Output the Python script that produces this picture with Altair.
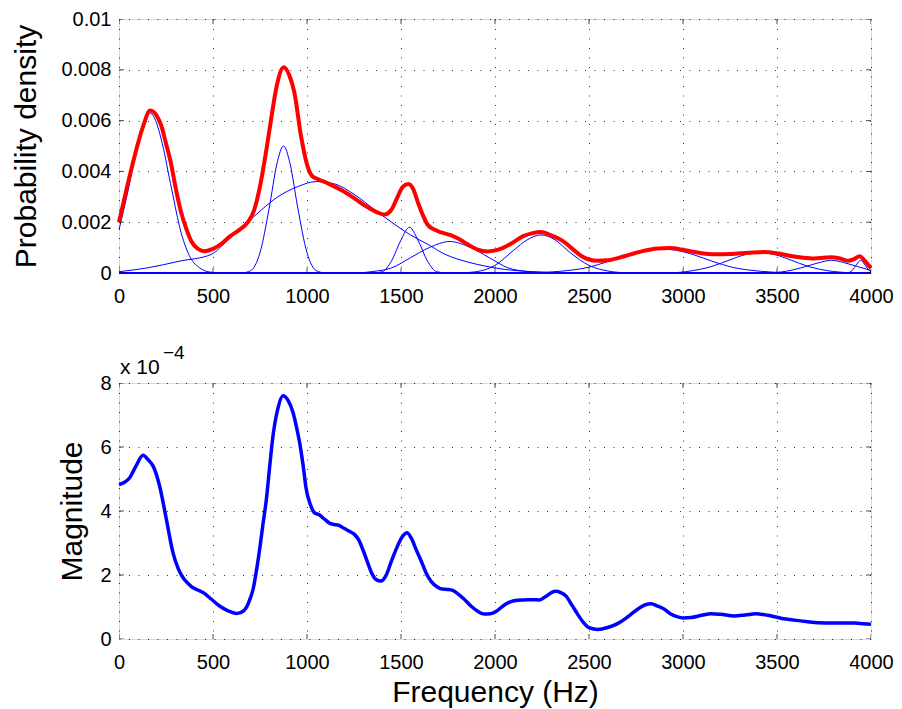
import altair as alt
import pandas as pd

FONT = "Liberation Sans"

# ---------------- data ----------------
# top panel: mixture density (red)
mix_f = [0, 40, 83, 125, 166, 200, 225, 250, 277, 300, 330, 360, 385, 420, 456, 500, 550, 590,
         640, 685, 720, 755, 785, 808, 840, 876, 905, 933, 968, 1003, 1030, 1057, 1120, 1199,
         1305, 1370, 1411, 1450, 1482, 1510, 1540, 1565, 1589, 1615, 1642, 1680, 1713, 1760,
         1801, 1850, 1908, 1960, 1996, 2040, 2085, 2150, 2200, 2245, 2300, 2369, 2420, 2457,
         2500, 2545, 2600, 2688, 2780, 2865, 2930, 2989, 3043, 3100, 3166, 3250, 3350, 3432,
         3500, 3574, 3640, 3698, 3750, 3787, 3830, 3876, 3910, 3940, 3965, 3991, 4000]
mix_v = [0.0020, 0.0033, 0.0046, 0.0057, 0.0064, 0.0062, 0.0058, 0.0051, 0.0043, 0.0034, 0.0024,
         0.0017, 0.00125, 0.00095, 0.00086, 0.00095, 0.00118, 0.00144, 0.0017, 0.0020, 0.0025,
         0.0036, 0.0049, 0.0060, 0.0074, 0.0081, 0.0078, 0.0071, 0.0054, 0.0042, 0.0038, 0.0037,
         0.0035, 0.0032, 0.00267, 0.0024, 0.0023, 0.0025, 0.0030, 0.0034, 0.0035, 0.0033, 0.0028,
         0.0023, 0.0019, 0.0017, 0.0016, 0.0015, 0.00137, 0.00115, 0.00092, 0.00085, 0.00088,
         0.00098, 0.00115, 0.00145, 0.00157, 0.00161, 0.00148, 0.00122, 0.0009, 0.00068, 0.00053,
         0.00048, 0.0005, 0.00066, 0.00085, 0.00096, 0.00098, 0.00093, 0.00085, 0.00078, 0.00074,
         0.00075, 0.0008, 0.00083, 0.00078, 0.00067, 0.0006, 0.00057, 0.0006, 0.00062, 0.00058,
         0.00048, 0.00055, 0.00066, 0.0005, 0.00027, 0.0002]

# top panel: mixture components (thin blue)
c1_f = [0, 50, 100, 135, 165, 195, 230, 280, 330, 380, 430, 480, 550, 4000]
c1_v = [0.0017, 0.0033, 0.0051, 0.0060, 0.0063, 0.0060, 0.0051, 0.0033, 0.0016, 0.0006, 0.0002, 0.00004, 0, 0]
c2_f = [0, 150, 325, 490, 580, 670, 760, 845, 950, 1050, 1150, 1250, 1375, 1450, 1550, 1650, 1730,
        1800, 1900, 2000, 2100, 2250, 2400, 4000]
c2_v = [0.00005, 0.0002, 0.00047, 0.00073, 0.0013, 0.0019, 0.0025, 0.0030, 0.0034, 0.0036, 0.0035,
        0.0031, 0.0024, 0.0020, 0.0015, 0.0011, 0.00075, 0.00055, 0.00035, 0.0002, 0.0001, 0.00004, 0, 0]
c3_f = [0, 650, 700, 750, 800, 840, 875, 910, 950, 1000, 1050, 1100, 4000]
c3_v = [0, 0, 0.00009, 0.0008, 0.0026, 0.0043, 0.0050, 0.0043, 0.0026, 0.0008, 0.00009, 0, 0]
c4_f = [0, 1350, 1400, 1450, 1500, 1545, 1590, 1640, 1690, 1750, 4000]
c4_v = [0, 0, 0.00005, 0.00048, 0.0013, 0.0018, 0.0013, 0.00048, 0.00005, 0, 0]
c5_f = [0, 1250, 1350, 1450, 1550, 1650, 1760, 1870, 1970, 2070, 2170, 2270, 4000]
c5_v = [0, 0, 0.00006, 0.0002, 0.0006, 0.0010, 0.00124, 0.0010, 0.0006, 0.0002, 0.00006, 0, 0]
c6_f = [0, 1800, 1900, 2000, 2100, 2170, 2245, 2320, 2400, 2500, 2600, 2700, 2800, 4000]
c6_v = [0, 0, 0.00005, 0.0003, 0.0009, 0.0013, 0.0015, 0.0013, 0.0008, 0.0003, 0.00008, 0.00001, 0, 0]
c7_f = [0, 2200, 2350, 2500, 2600, 2700, 2800, 2880, 2960, 3060, 3160, 3260, 3410, 3560, 3700, 4000]
c7_v = [0, 0.00001, 0.00007, 0.00023, 0.00045, 0.00071, 0.0009, 0.00095, 0.0009, 0.00071, 0.00045,
        0.00023, 0.00007, 0.00001, 0, 0]
c8_f = [0, 2900, 3050, 3150, 3250, 3330, 3410, 3490, 3570, 3670, 3770, 3900, 4000]
c8_v = [0, 0, 0.00009, 0.00025, 0.00052, 0.00072, 0.0008, 0.00072, 0.00052, 0.00025, 0.00009, 0.00001, 0]
c9_f = [0, 3450, 3550, 3650, 3720, 3790, 3860, 3930, 4000]
c9_v = [0, 0.00001, 0.00007, 0.00025, 0.0004, 0.0005, 0.0004, 0.00025, 0.0001]
c10_f = [0, 3870, 3900, 3925, 3945, 3965, 3990, 4000]
c10_v = [0, 0, 0.0001, 0.00035, 0.0005, 0.00035, 0.0001, 0.00005]

# bottom panel: magnitude (x 10^-4)
mag_f = [0, 30, 57, 90, 128, 155, 181, 216, 252, 287, 315, 340, 370, 394, 420, 447, 490, 535, 580,
         624, 650, 677, 700, 713, 730, 748, 766, 784, 800, 819, 845, 872, 900, 926, 945, 961, 980,
         996, 1015, 1039, 1065, 1092, 1120, 1145, 1170, 1199, 1230, 1252, 1275, 1300, 1323, 1345,
         1367, 1394, 1420, 1450, 1482, 1510, 1532, 1555, 1580, 1610, 1633, 1660, 1695, 1720, 1748,
         1775, 1801, 1835, 1872, 1910, 1943, 1975, 2005, 2032, 2060, 2085, 2120, 2156, 2200, 2236,
         2270, 2300, 2324, 2350, 2378, 2410, 2440, 2470, 2493, 2520, 2546, 2600, 2652, 2690, 2723,
         2770, 2800, 2830, 2865, 2901, 2935, 2972, 3000, 3043, 3100, 3149, 3200, 3273, 3330, 3388,
         3450, 3521, 3590, 3663, 3720, 3787, 3850, 3911, 3960, 4000]
mag_v = [4.83, 4.9, 5.04, 5.4, 5.74, 5.6, 5.41, 4.78, 3.74, 2.70, 2.2, 1.92, 1.72, 1.60, 1.53, 1.45,
         1.25, 1.03, 0.88, 0.80, 0.83, 0.98, 1.3, 1.55, 2.1, 2.80, 3.6, 4.37, 5.3, 6.34, 7.2, 7.6,
         7.45, 7.07, 6.6, 6.13, 5.4, 4.68, 4.25, 3.95, 3.88, 3.75, 3.62, 3.58, 3.55, 3.45, 3.35,
         3.27, 3.1, 2.75, 2.38, 2.05, 1.86, 1.81, 1.98, 2.45, 2.91, 3.22, 3.32, 3.15, 2.80, 2.4,
         2.07, 1.8, 1.62, 1.56, 1.55, 1.52, 1.42, 1.25, 1.03, 0.86, 0.78, 0.79, 0.86, 0.98, 1.1,
         1.17, 1.21, 1.22, 1.23, 1.22, 1.33, 1.45, 1.49, 1.45, 1.34, 1.05, 0.77, 0.52, 0.38, 0.32,
         0.30, 0.36, 0.48, 0.62, 0.77, 0.98, 1.07, 1.10, 1.03, 0.93, 0.78, 0.69, 0.66, 0.67, 0.74,
         0.79, 0.77, 0.72, 0.75, 0.79, 0.74, 0.65, 0.59, 0.54, 0.51, 0.50, 0.50, 0.50, 0.48, 0.46]

x_ticks = [0, 500, 1000, 1500, 2000, 2500, 3000, 3500, 4000]
top_y_ticks = [0, 0.002, 0.004, 0.006, 0.008, 0.01]
bot_y_ticks = [0, 2, 4, 6, 8]
x_label = "Frequency (Hz)"
top_y_label = "Probability density"
bot_y_label = "Magnitude"
exp_base = "x 10"
exp_power = "\u22124"

# ---------------- tables ----------------
comps = [(c1_f, c1_v), (c2_f, c2_v), (c3_f, c3_v), (c4_f, c4_v), (c5_f, c5_v),
         (c6_f, c6_v), (c7_f, c7_v), (c8_f, c8_v), (c9_f, c9_v), (c10_f, c10_v)]
comp_rows = []
for i, (fs, vs) in enumerate(comps):
    for f, v in zip(fs, vs):
        comp_rows.append({"f": f, "v": v, "comp": f"c{i+1}"})
comp_df = pd.DataFrame(comp_rows)
mix_df = pd.DataFrame({"f": mix_f, "v": mix_v})
mag_df = pd.DataFrame({"f": mag_f, "v": mag_v})
xt_df = pd.DataFrame({"t": x_ticks})
ytt_df = pd.DataFrame({"t": top_y_ticks})
ytb_df = pd.DataFrame({"t": bot_y_ticks})

W, H1, H2 = 752, 254, 256
LF = 20
TF = 30

xscale = alt.Scale(domain=[0, 4000], nice=False, zero=False)
yscale_top = alt.Scale(domain=[0, 0.01], nice=False)
yscale_bot = alt.Scale(domain=[0, 8], nice=False)

grid_kw = dict(grid=True, gridColor="#000000", gridDash=[1, 8.5], gridWidth=1, gridOpacity=0.8,
               ticks=False, tickSize=0, domain=False, labelFont=FONT, labelFontSize=LF,
               labelColor="#000000", labelFlush=False, titleFont=FONT, titleFontSize=TF,
               titleColor="#000000", titleFontWeight="normal")


def x_axis(title):
    kw = dict(grid_kw)
    if title:
        return alt.Axis(values=x_ticks, format="d", title=title, labelPadding=13, titlePadding=5, **kw)
    return alt.Axis(values=x_ticks, format="d", title=None, labelPadding=13, **kw)


def inner_ticks(yscale, ydf, h):
    xb = alt.Chart(xt_df).mark_tick(color="black", thickness=1, size=10, clip=True, orient="vertical").encode(
        x=alt.X("t:Q", scale=xscale), y=alt.value(h))
    xt = alt.Chart(xt_df).mark_tick(color="black", thickness=1, size=10, clip=True, orient="vertical").encode(
        x=alt.X("t:Q", scale=xscale), y=alt.value(0))
    yl = alt.Chart(ydf).mark_tick(color="black", thickness=1, size=10, clip=True, orient="horizontal").encode(
        y=alt.Y("t:Q", scale=yscale), x=alt.value(0))
    yr = alt.Chart(ydf).mark_tick(color="black", thickness=1, size=10, clip=True, orient="horizontal").encode(
        y=alt.Y("t:Q", scale=yscale), x=alt.value(W))
    return [xb, xt, yl, yr]


comp_line = alt.Chart(comp_df).mark_line(color="#0000ff", strokeWidth=1, interpolate="monotone").encode(
    x=alt.X("f:Q", scale=xscale, axis=x_axis(None)),
    y=alt.Y("v:Q", scale=yscale_top,
            axis=alt.Axis(values=top_y_ticks, format="~g", title=top_y_label, labelPadding=8,
                          titlePadding=19, **grid_kw)),
    detail="comp:N",
)
mix_line = alt.Chart(mix_df).mark_line(color="#ff0000", strokeWidth=4, interpolate="monotone").encode(
    x=alt.X("f:Q", scale=xscale), y=alt.Y("v:Q", scale=yscale_top))

top = alt.layer(comp_line, mix_line, *inner_ticks(yscale_top, ytt_df, H1)).properties(width=W, height=H1)

mag_line = alt.Chart(mag_df).mark_line(color="#0000ff", strokeWidth=3.5, interpolate="monotone").encode(
    x=alt.X("f:Q", scale=xscale, axis=x_axis(x_label)),
    y=alt.Y("v:Q", scale=yscale_bot,
            axis=alt.Axis(values=bot_y_ticks, format="~g", title=bot_y_label, labelPadding=8,
                          titlePadding=12, **grid_kw)),
)
exp1 = alt.Chart(pd.DataFrame({"s": [exp_base]})).mark_text(
    align="left", baseline="alphabetic", font=FONT, fontSize=21, color="black").encode(
    text="s:N", x=alt.value(1), y=alt.value(-9))
exp2 = alt.Chart(pd.DataFrame({"s": [exp_power]})).mark_text(
    align="left", baseline="alphabetic", font=FONT, fontSize=19, color="black").encode(
    text="s:N", x=alt.value(44), y=alt.value(-24))

bottom = alt.layer(mag_line, exp1, exp2, *inner_ticks(yscale_bot, ytb_df, H2)).properties(width=W, height=H2)

chart = alt.vconcat(top, bottom, spacing=110, bounds="flush").properties(
    padding={"left": 3, "top": 0, "right": 0, "bottom": 0}
).configure_view(stroke="black", strokeWidth=1).configure(background="white")

chart.save("out.html", embed_options={"renderer": "svg", "actions": False})
